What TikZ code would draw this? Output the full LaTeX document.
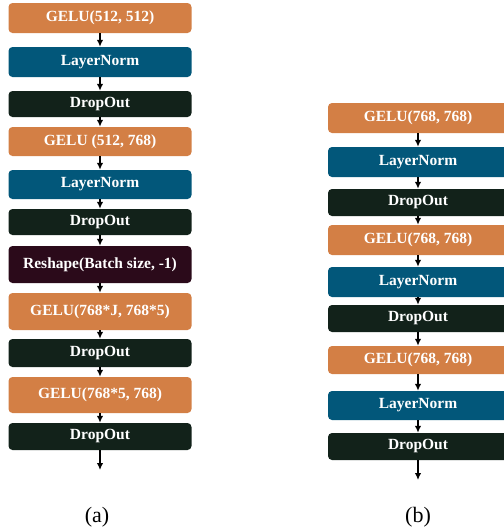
\documentclass[tikz,border=0pt]{standalone}
\usepackage{fontspec}
\setmainfont{Liberation Serif}
\usetikzlibrary{arrows.meta}
\definecolor{cgelu}{HTML}{D37F45}
\definecolor{cnorm}{HTML}{02577A}
\definecolor{cdrop}{HTML}{12221A}
\definecolor{cresh}{HTML}{2B0A1A}
\tikzset{
  blk/.style={rectangle, rounded corners=4pt, inner sep=0pt, text=white,
    font=\fontsize{15.5}{18}\selectfont\bfseries, align=center},
  lw/.style={minimum width=183pt},
  rw/.style={minimum width=180pt},
  gelu/.style={blk, fill=cgelu},
  lnorm/.style={blk, fill=cnorm},
  drop/.style={blk, fill=cdrop},
  resh/.style={blk, fill=cresh},
  arr/.style={line width=1.8pt, -{Latex[length=7pt,width=6.5pt]}},
  sublabel/.style={font=\fontsize{22}{26}\selectfont}
}
\begin{document}
\begin{tikzpicture}[x=1pt,y=1pt]
\useasboundingbox (0,0) rectangle (504,-531);
% left column
\node[gelu,lw,minimum height=30pt] (a1) at (100,-18) {GELU(512, 512)};
\node[lnorm,lw,minimum height=30pt] (a2) at (100,-62) {LayerNorm};
\node[drop,lw,minimum height=26pt] (a3) at (100,-104) {DropOut};
\node[gelu,lw,minimum height=29pt] (a4) at (100,-141.5) {GELU (512, 768)};
\node[lnorm,lw,minimum height=29pt] (a5) at (100,-184.5) {LayerNorm};
\node[drop,lw,minimum height=26pt] (a6) at (100,-222) {DropOut};
\node[resh,lw,minimum height=37pt] (a7) at (100,-264.5) {Reshape(Batch size, -1)};
\node[gelu,lw,minimum height=37pt] (a8) at (100,-311.5) {GELU(768*J, 768*5)};
\node[drop,lw,minimum height=28pt] (a9) at (100,-353) {DropOut};
\node[gelu,lw,minimum height=36pt] (a10) at (100,-395) {GELU(768*5, 768)};
\node[drop,lw,minimum height=27pt] (a11) at (100,-436.5) {DropOut};
\coordinate (aend) at (100,-470);
\foreach \i/\j in {1/2,2/3,3/4,4/5,5/6,6/7,7/8,8/9,9/10,10/11}
  \draw[arr] (a\i.south) -- (a\j.north);
\draw[arr] (a11.south) -- (aend);
\node[sublabel] (la) at (97,-517) {(a)};
% right column
\node[gelu,rw,minimum height=30pt] (b1) at (418,-118) {GELU(768, 768)};
\node[lnorm,rw,minimum height=30pt] (b2) at (418,-162) {LayerNorm};
\node[drop,rw,minimum height=27pt] (b3) at (418,-202.5) {DropOut};
\node[gelu,rw,minimum height=30pt] (b4) at (418,-240) {GELU(768, 768)};
\node[lnorm,rw,minimum height=30pt] (b5) at (418,-282) {LayerNorm};
\node[drop,rw,minimum height=27pt] (b6) at (418,-318.5) {DropOut};
\node[gelu,rw,minimum height=28pt] (b7) at (418,-360) {GELU(768, 768)};
\node[lnorm,rw,minimum height=29pt] (b8) at (418,-405.5) {LayerNorm};
\node[drop,rw,minimum height=27pt] (b9) at (418,-446.5) {DropOut};
\coordinate (bend) at (418,-480);
\foreach \i/\j in {1/2,2/3,3/4,4/5,5/6,6/7,7/8,8/9}
  \draw[arr] (b\i.south) -- (b\j.north);
\draw[arr] (b9.south) -- (bend);
\node[sublabel] (lb) at (418,-517) {(b)};
\end{tikzpicture}
\end{document}
